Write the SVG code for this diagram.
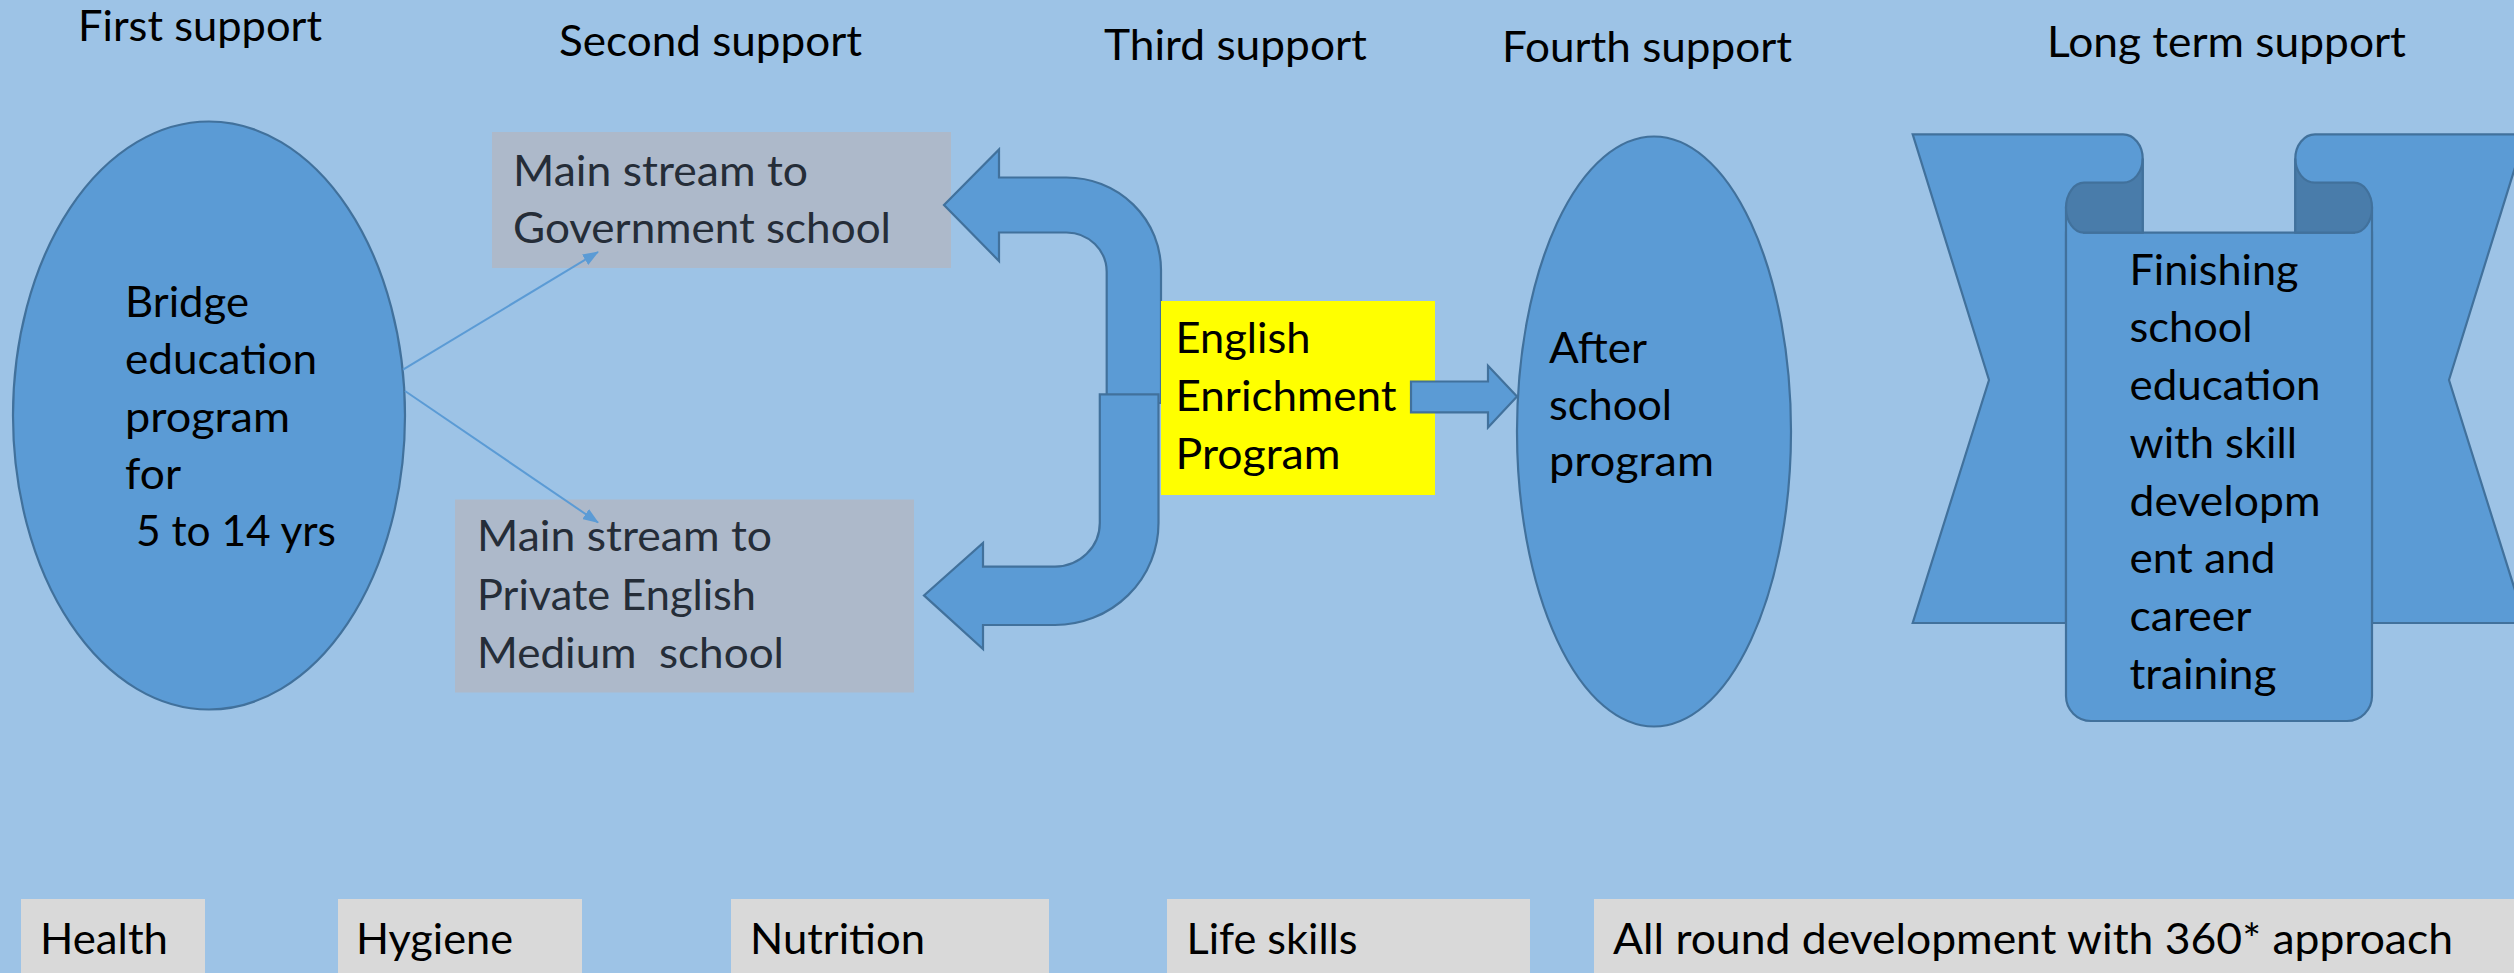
<svg xmlns="http://www.w3.org/2000/svg" width="2514" height="973" viewBox="0 0 2514 973">
<style>
text{font-family:Lato,"Liberation Sans",sans-serif;font-size:43px;fill:#000}
.gt{fill:#252d38}
.shape{fill:#5b9bd5;stroke:#41719c;stroke-width:2.2}
.fold{fill:#497caa;stroke:#41719c;stroke-width:2.2}
.gray{fill:#adb9ca}
.light{fill:#d9d9d9}
.thin{stroke:#5b9bd5;stroke-width:2;fill:none}
</style>
<defs>
<marker id="ah" markerWidth="16" markerHeight="12" refX="15" refY="6" orient="auto" markerUnits="userSpaceOnUse"><path d="M0,0 L16,6 L0,12 Z" fill="#5b9bd5"/></marker>
</defs>
<rect x="0" y="0" width="2514" height="973" fill="#9dc3e6"/>
<g id="headings">
<text x="78" y="41" textLength="244" lengthAdjust="spacingAndGlyphs">First support</text>
<text x="559" y="56" textLength="303" lengthAdjust="spacingAndGlyphs">Second support</text>
<text x="1104" y="60" textLength="263" lengthAdjust="spacingAndGlyphs">Third support</text>
<text x="1502" y="61.5" textLength="290" lengthAdjust="spacingAndGlyphs">Fourth support</text>
<text x="2047" y="57" textLength="359" lengthAdjust="spacingAndGlyphs">Long term support</text>
</g>
<g id="gov">
<rect class="gray" x="492" y="132" width="459" height="136"/>
<text class="gt" x="513" y="186" textLength="295" lengthAdjust="spacingAndGlyphs">Main stream to</text>
<text class="gt" x="513" y="243" textLength="378" lengthAdjust="spacingAndGlyphs">Government school</text>
</g>
<g id="private">
<rect class="gray" x="455" y="499.5" width="459" height="193"/>
<text class="gt" x="477" y="551" textLength="295" lengthAdjust="spacingAndGlyphs">Main stream to</text>
<text class="gt" x="477" y="610" textLength="279" lengthAdjust="spacingAndGlyphs">Private English</text>
<text class="gt" x="477" y="668" textLength="307" lengthAdjust="spacingAndGlyphs" xml:space="preserve">Medium  school</text>
</g>
<g id="bridge">
<ellipse class="shape" cx="209" cy="415.5" rx="196" ry="294"/>
<text x="125" y="317" textLength="124" lengthAdjust="spacingAndGlyphs">Bridge</text>
<text x="125" y="374" textLength="192" lengthAdjust="spacingAndGlyphs">education</text>
<text x="125" y="432" textLength="165" lengthAdjust="spacingAndGlyphs">program</text>
<text x="125" y="489" textLength="56" lengthAdjust="spacingAndGlyphs">for</text>
<text x="136" y="546" textLength="200" lengthAdjust="spacingAndGlyphs">5 to 14 yrs</text>
</g>
<g id="connectors">
<line class="thin" x1="403" y1="369.6" x2="598" y2="252" marker-end="url(#ah)"/>
<line class="thin" x1="405" y1="391" x2="598" y2="522.5" marker-end="url(#ah)"/>
<path class="shape" d="M944,205 L999,149.4 L999,177.5 L1066.5,177.5 A94.5,92.5 0 0 1 1161,270 L1161,403 L1106.7,403 L1106.7,272 A40.2,39.5 0 0 0 1066.5,232.5 L999,232.5 L999,261 Z"/>
<path class="shape" d="M1099.8,394.3 L1158.5,394.3 L1158.5,523 A103.5,102 0 0 1 1055,625 L983,625 L983,649 L924,595.4 L983,543 L983,566.6 L1055,566.6 A44.8,43.6 0 0 0 1099.8,523 Z"/>
</g>
<g id="english">
<rect x="1161" y="301" width="274" height="194" fill="#ffff00"/>
<text x="1175.5" y="353" textLength="135" lengthAdjust="spacingAndGlyphs">English</text>
<text x="1175.5" y="411" textLength="221" lengthAdjust="spacingAndGlyphs">Enrichment</text>
<text x="1175.5" y="469" textLength="165" lengthAdjust="spacingAndGlyphs">Program</text>
</g>
<g id="connector-right">
<path class="shape" d="M1411,381.5 L1488,381.5 L1488,365.7 L1517,396.6 L1488,427.4 L1488,412.4 L1411,412.4 Z"/>
</g>
<g id="afterschool">
<ellipse class="shape" cx="1654" cy="431.5" rx="137" ry="295"/>
<text x="1549" y="363" textLength="98" lengthAdjust="spacingAndGlyphs">After</text>
<text x="1549" y="420" textLength="123" lengthAdjust="spacingAndGlyphs">school</text>
<text x="1549" y="476" textLength="165" lengthAdjust="spacingAndGlyphs">program</text>
</g>
<g id="finishing">
<path class="shape" d="M1912.7,134.4 H2123 A19.7,24.2 0 0 1 2142.7,158.6 V232.7 H2066 V623 H1912.7 L1989,380 Z"/>
<path class="shape" d="M2525.3,134.4 H2315 A19.7,24.2 0 0 0 2295.3,158.6 V232.7 H2372 V623 H2525.3 L2449,380 Z"/>
<path class="shape" d="M2066,207.7 V696 A25,25 0 0 0 2091,721 H2347 A25,25 0 0 0 2372,696 V207.7 H2354 V232.7 H2084 V207.7 Z"/>
<path class="fold" d="M2142.7,158.6 V232.7 H2084 A18,25 0 0 1 2084,182.7 H2123 A19.7,24.1 0 0 0 2142.7,158.6 Z"/>
<path class="fold" d="M2295.3,158.6 V232.7 H2354 A18,25 0 0 0 2354,182.7 H2315 A19.7,24.1 0 0 1 2295.3,158.6 Z"/>
<text x="2129.5" y="284.5" textLength="169" lengthAdjust="spacingAndGlyphs">Finishing</text>
<text x="2129.5" y="342.2" textLength="123" lengthAdjust="spacingAndGlyphs">school</text>
<text x="2129.5" y="400" textLength="191" lengthAdjust="spacingAndGlyphs">education</text>
<text x="2129.5" y="457.7" textLength="167.5" lengthAdjust="spacingAndGlyphs">with skill</text>
<text x="2129.5" y="515.5" textLength="191" lengthAdjust="spacingAndGlyphs">developm</text>
<text x="2129.5" y="573.2" textLength="146" lengthAdjust="spacingAndGlyphs">ent and</text>
<text x="2129.5" y="630.9" textLength="122" lengthAdjust="spacingAndGlyphs">career</text>
<text x="2129.5" y="688.7" textLength="147" lengthAdjust="spacingAndGlyphs">training</text>
</g>
<g id="health">
<rect class="light" x="21" y="899" width="184" height="74"/>
<text x="40" y="954" textLength="128" lengthAdjust="spacingAndGlyphs">Health</text>
</g>
<g id="hygiene">
<rect class="light" x="338" y="899" width="244" height="74"/>
<text x="356" y="954" textLength="157" lengthAdjust="spacingAndGlyphs">Hygiene</text>
</g>
<g id="nutrition">
<rect class="light" x="731" y="899" width="318" height="74"/>
<text x="750" y="954" textLength="175" lengthAdjust="spacingAndGlyphs">Nutrition</text>
</g>
<g id="lifeskills">
<rect class="light" x="1167" y="899" width="363" height="74"/>
<text x="1186.5" y="954" textLength="171" lengthAdjust="spacingAndGlyphs">Life skills</text>
</g>
<g id="allround">
<rect class="light" x="1594" y="899" width="920" height="74"/>
<text x="1613" y="954" textLength="840" lengthAdjust="spacingAndGlyphs">All round development with 360* approach</text>
</g>
</svg>
